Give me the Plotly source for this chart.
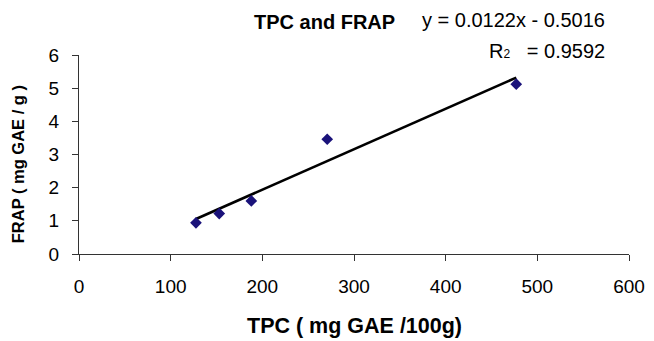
import plotly.graph_objects as go

# Data
tpc = [127.6, 153.0, 188.0, 270.8, 477.0]      # TPC (mg GAE/100g)
frap = [0.94, 1.22, 1.60, 3.46, 5.12]          # FRAP (mg GAE/g)
slope = 0.0122
intercept = -0.5016
r2 = 0.9592
x_ticks = [0, 100, 200, 300, 400, 500, 600]
y_ticks = [0, 1, 2, 3, 4, 5, 6]

FONT = "Liberation Sans, Arial, sans-serif"

# the page body keeps an 8px margin, so the figure is drawn 8px smaller
OFF = 8
W, H = 654 - OFF, 341 - OFF
L, R, T, B = 79 - OFF, 24.7, 55 - OFF, 86.5
PW, PH = W - L - R, H - T - B


def px(xp):
    return (xp - OFF - L) / PW


def py(yp):
    return (H - B - (yp - OFF)) / PH


trend_x = [min(tpc), max(tpc)]
trend_y = [slope * v + intercept for v in trend_x]

fig = go.Figure()
fig.add_trace(go.Scatter(
    x=trend_x, y=trend_y, mode="lines",
    line=dict(color="black", width=2.6), showlegend=False, hoverinfo="skip"))
fig.add_trace(go.Scatter(
    x=tpc, y=frap, mode="markers",
    marker=dict(symbol="diamond", size=9, color="#1a127a"),
    showlegend=False))

fig.update_layout(
    width=W, height=H,
    margin=dict(l=L, r=R, t=T, b=B, pad=0, autoexpand=False),
    paper_bgcolor="white", plot_bgcolor="white",
    font=dict(family=FONT, color="black", size=19),
    annotations=[
        dict(text="<b>TPC and FRAP</b>", xref="paper", yref="paper",
             x=px(324.7), y=py(22), xanchor="center", yanchor="middle",
             showarrow=False, font=dict(size=20)),
        dict(text="<b>FRAP ( mg GAE / g )</b>", textangle=-90, xref="paper", yref="paper",
             x=px(17.5), y=py(165), xanchor="center", yanchor="middle",
             showarrow=False, font=dict(size=16.5)),
        dict(text=f"y = {slope}x - {abs(intercept)}", xref="paper", yref="paper",
             x=px(607), y=py(20), xanchor="right", yanchor="middle",
             showarrow=False, font=dict(size=20)),
        dict(text=f"R<span style='font-size:12px'>2</span>&nbsp;&nbsp; = {r2}", xref="paper", yref="paper",
             x=px(607), y=py(51), xanchor="right", yanchor="middle",
             showarrow=False, font=dict(size=20)),
        dict(text="<b>TPC ( mg GAE /100g)</b>", xref="paper", yref="paper",
             x=px(354.2), y=py(341), xanchor="center", yanchor="bottom",
             showarrow=False, font=dict(size=21.5)),
    ],
    xaxis=dict(range=[0, 600], tickvals=x_ticks, ticks="outside", ticklen=6,
               tickcolor="#333", linecolor="#333", linewidth=1.2, showline=True,
               showgrid=False, zeroline=False, tickfont=dict(size=19), ticklabelstandoff=9,
               automargin=False),
    yaxis=dict(range=[0, 6], tickvals=y_ticks, ticks="outside", ticklen=6,
               tickcolor="#333", linecolor="#333", linewidth=1.2, showline=True,
               showgrid=False, zeroline=False, tickfont=dict(size=19), ticklabelstandoff=9,
               automargin=False),
)

fig.write_html("out.html")
